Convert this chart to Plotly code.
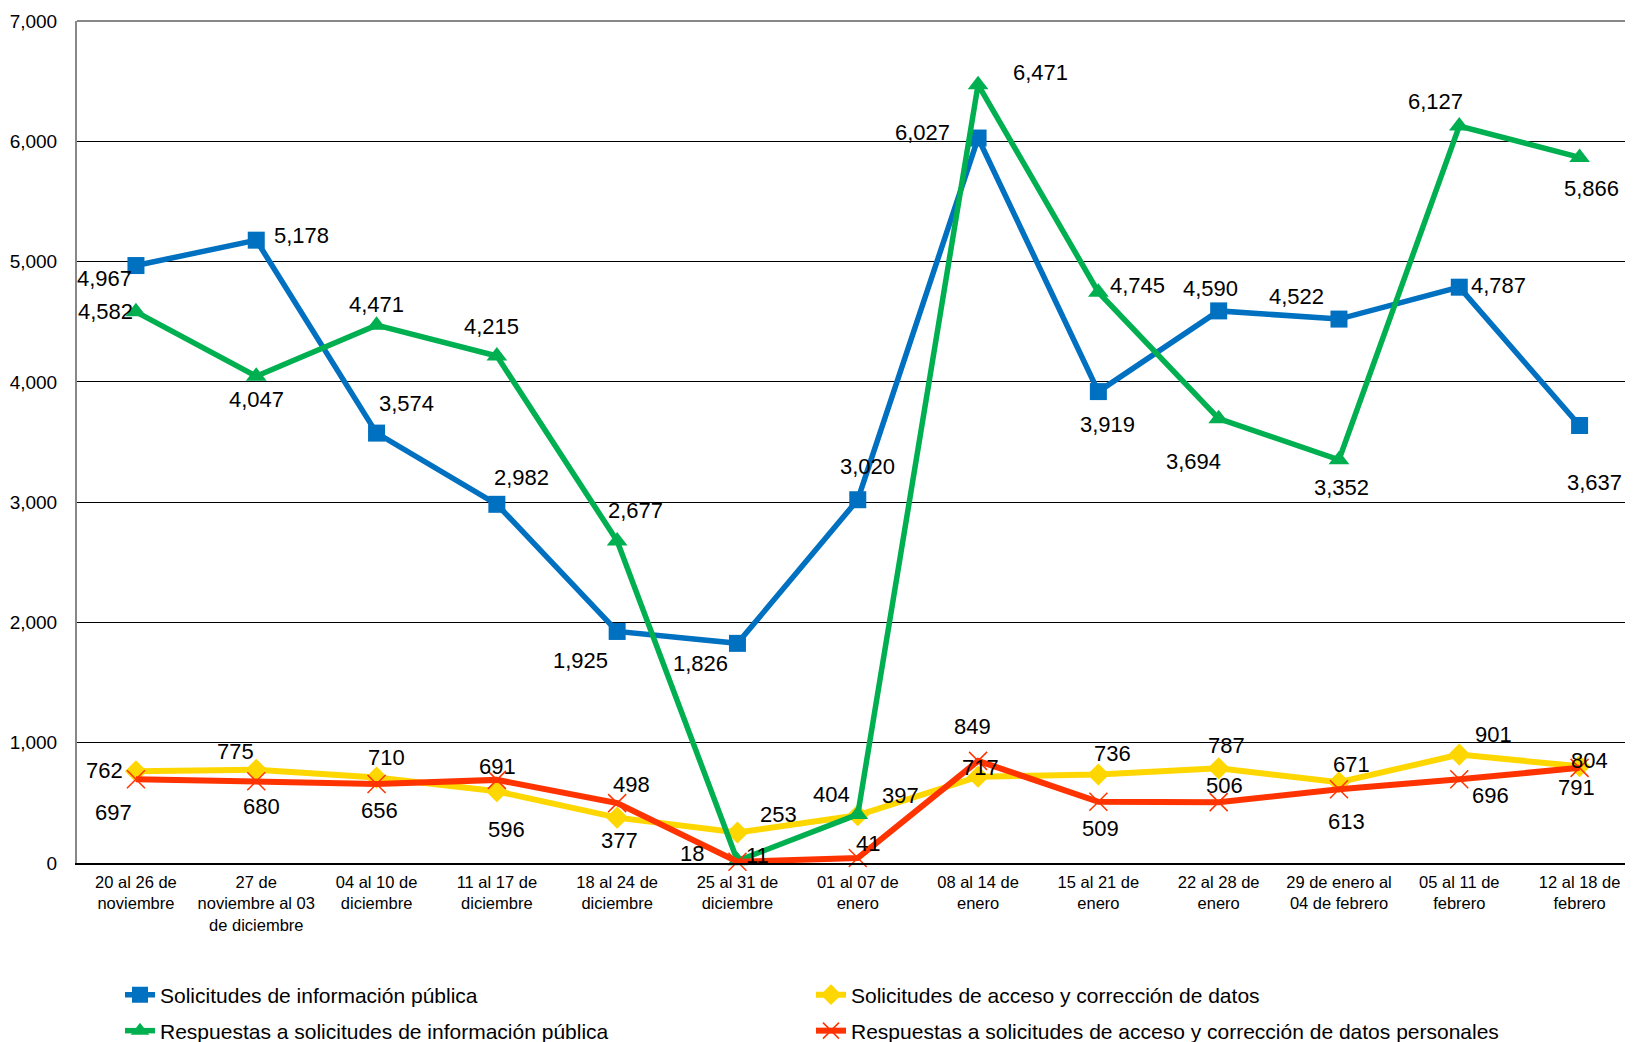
import plotly.graph_objects as go

categories = [
    "20 al 26 de<br>noviembre",
    "27 de<br>noviembre al 03<br>de diciembre",
    "04 al 10 de<br>diciembre",
    "11 al 17 de<br>diciembre",
    "18 al 24 de<br>diciembre",
    "25 al 31 de<br>diciembre",
    "01 al 07 de<br>enero",
    "08 al 14 de<br>enero",
    "15 al 21 de<br>enero",
    "22 al 28 de<br>enero",
    "29 de enero al<br>04 de febrero",
    "05 al 11 de<br>febrero",
    "12 al 18 de<br>febrero",
]

sol_info = [4967, 5178, 3574, 2982, 1925, 1826, 3020, 6027, 3919, 4590, 4522, 4787, 3637]
sol_acceso = [762, 775, 710, 596, 377, 253, 397, 717, 736, 787, 671, 901, 804]
resp_info = [4582, 4047, 4471, 4215, 2677, 18, 404, 6471, 4745, 3694, 3352, 6127, 5866]
resp_acceso = [697, 680, 656, 691, 498, 11, 41, 849, 509, 506, 613, 696, 791]

y_ticks = [0, 1000, 2000, 3000, 4000, 5000, 6000, 7000]

names = [
    "Solicitudes de información pública",
    "Solicitudes de acceso y corrección de datos",
    "Respuestas a solicitudes de información pública",
    "Respuestas a solicitudes de acceso y corrección de datos personales",
]

# label offsets (dx right, dy down) in pixels -- styling only
off_info = [(-31, 13), (45, -5), (30, -30), (25, -27), (-37, 29), (-37, 20), (10, -33),
            (-56, -6), (9, 33), (-8, -22), (-42, -23), (39, -2), (15, 57)]
off_resp_info = [(-30, 0), (0, 23), (0, -21), (-5, -30), (18, -31), (-45, -7), (-26, -20),
                 (62, -12), (39, -7), (-25, 43), (3, 28), (-24, -25), (12, 31)]
off_acceso = [(-31, -1), (-21, -18), (10, -20), (10, 38), (2, 23), (41, -18), (43, -20),
              (2, -9), (14, -21), (8, -23), (13, -18), (34, -20), (10, -6)]
off_resp_acceso = [(-22, 33), (5, 25), (3, 26), (1, -13), (14, -19), (20, -6), (10, -15),
                   (-6, -34), (2, 27), (6, -17), (8, 32), (31, 16), (-3, 20)]

FONT = "Arial, Liberation Sans, sans-serif"
PAGE_OFF = 8  # default body margin of the html page
W, H = 1633 - PAGE_OFF, 1042 - PAGE_OFF

fig = go.Figure()

series = [
    (sol_info, names[0], "#0070C0", 5.5, dict(symbol="square", size=17, color="#0070C0"), "legend", off_info),
    (sol_acceso, names[1], "#FFD700", 6, dict(symbol="diamond", size=17, color="#FFD700"), "legend", off_acceso),
    (resp_info, names[2], "#00B050", 5.5, dict(symbol="triangle-up", size=18, color="#00B050"), "legend2", off_resp_info),
    (resp_acceso, names[3], "#FF3300", 6, dict(symbol="x-thin", size=18, color="#FF3300",
                                               line=dict(color="#FF3300", width=1.5)), "legend2", off_resp_acceso),
]

annotations = []
for vals, name, color, lw, marker, leg, offs in series:
    fig.add_trace(go.Scatter(
        x=categories, y=vals, name=name, mode="lines+markers",
        line=dict(color=color, width=lw), marker=marker, legend=leg,
        cliponaxis=False,
    ))
    for c, v, (dx, dy) in zip(categories, vals, offs):
        annotations.append(dict(
            x=c, y=v, xref="x", yref="y", text=f"{v:,}", showarrow=False,
            xshift=dx, yshift=-dy, font=dict(family=FONT, size=22, color="black"),
        ))

fig.update_layout(
    width=W, height=H,
    margin=dict(l=77 - PAGE_OFF, r=0, t=21 - PAGE_OFF, b=179),
    paper_bgcolor="white", plot_bgcolor="white",
    font=dict(family=FONT, color="black"),
    annotations=annotations,
    xaxis=dict(
        type="category", range=[-0.49, 12.444],
        showline=True, linecolor="black", linewidth=2,
        showgrid=False, ticks="", tickfont=dict(size=16.5, color="black"),
        ticklabelstandoff=3,
    ),
    yaxis=dict(
        range=[0, 7000], tickvals=y_ticks, tickformat=",",
        showgrid=True, gridcolor="black", gridwidth=1,
        showline=True, linecolor="#888888", linewidth=2,
        zeroline=False, ticks="", ticklabelstandoff=14,
        tickfont=dict(size=19, color="black"),
    ),
    legend=dict(
        orientation="h", xref="container", yref="container",
        x=(120 - PAGE_OFF) / W, y=1 - (995 - PAGE_OFF) / H, xanchor="left", yanchor="middle",
        entrywidthmode="pixels", entrywidth=646,
        font=dict(size=21, color="black"), bgcolor="rgba(0,0,0,0)",
    ),
    legend2=dict(
        orientation="h", xref="container", yref="container",
        x=(120 - PAGE_OFF) / W, y=1 - (1031 - PAGE_OFF) / H, xanchor="left", yanchor="middle",
        entrywidthmode="pixels", entrywidth=646,
        font=dict(size=21, color="black"), bgcolor="rgba(0,0,0,0)",
    ),
    shapes=[dict(type="line", xref="paper", yref="paper", x0=0, x1=1, y0=1, y1=1,
                 line=dict(color="#888888", width=2))],
)

fig.write_html("out.html")
